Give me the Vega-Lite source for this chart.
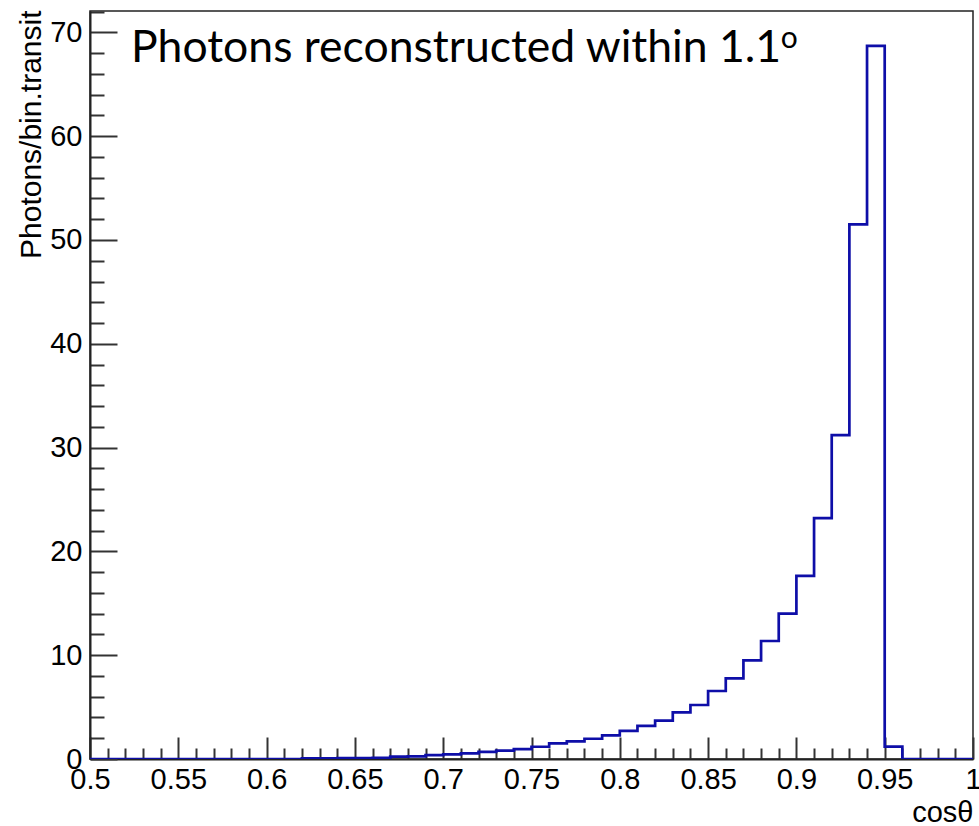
{
  "$schema": "https://vega.github.io/schema/vega-lite/v6.json",
  "width": 883,
  "height": 748,
  "autosize": "none",
  "padding": {"left": 90, "top": 11, "right": 6, "bottom": 67},
  "background": "white",
  "config": {
    "view": {"stroke": "#222", "strokeWidth": 1.5},
    "font": "Liberation Sans"
  },
  "datasets": {
    "hist": [
      {"lo": 0.50, "n": 0}, {"lo": 0.51, "n": 0}, {"lo": 0.52, "n": 0}, {"lo": 0.53, "n": 0}, {"lo": 0.54, "n": 0},
      {"lo": 0.55, "n": 0}, {"lo": 0.56, "n": 0}, {"lo": 0.57, "n": 0}, {"lo": 0.58, "n": 0}, {"lo": 0.59, "n": 0},
      {"lo": 0.60, "n": 0}, {"lo": 0.61, "n": 0}, {"lo": 0.62, "n": 0.06}, {"lo": 0.63, "n": 0.07}, {"lo": 0.64, "n": 0.08},
      {"lo": 0.65, "n": 0.09}, {"lo": 0.66, "n": 0.1}, {"lo": 0.67, "n": 0.22}, {"lo": 0.68, "n": 0.26}, {"lo": 0.69, "n": 0.38},
      {"lo": 0.70, "n": 0.45}, {"lo": 0.71, "n": 0.55}, {"lo": 0.72, "n": 0.68}, {"lo": 0.73, "n": 0.8}, {"lo": 0.74, "n": 0.96},
      {"lo": 0.75, "n": 1.18}, {"lo": 0.76, "n": 1.5}, {"lo": 0.77, "n": 1.7}, {"lo": 0.78, "n": 1.95}, {"lo": 0.79, "n": 2.28},
      {"lo": 0.80, "n": 2.7}, {"lo": 0.81, "n": 3.2}, {"lo": 0.82, "n": 3.7}, {"lo": 0.83, "n": 4.5}, {"lo": 0.84, "n": 5.2},
      {"lo": 0.85, "n": 6.55}, {"lo": 0.86, "n": 7.77}, {"lo": 0.87, "n": 9.5}, {"lo": 0.88, "n": 11.37}, {"lo": 0.89, "n": 14.0},
      {"lo": 0.90, "n": 17.65}, {"lo": 0.91, "n": 23.2}, {"lo": 0.92, "n": 31.2}, {"lo": 0.93, "n": 51.5}, {"lo": 0.94, "n": 68.7},
      {"lo": 0.95, "n": 1.2}, {"lo": 0.96, "n": 0}, {"lo": 0.97, "n": 0}, {"lo": 0.98, "n": 0}, {"lo": 0.99, "n": 0},
      {"lo": 1.00, "n": 0}
    ],
    "note": [{"label": "Photons reconstructed within 1.1", "sup": "o"}]
  },
  "layer": [
    {
      "data": {"name": "hist"},
      "mark": {"type": "line", "interpolate": "step-after", "color": "#0e0ea8", "strokeWidth": 2.7, "clip": true},
      "encoding": {
        "x": {
          "field": "lo", "type": "quantitative",
          "scale": {"domain": [0.5, 1.0], "nice": false, "zero": false},
          "axis": {
            "title": "cosθ",
            "values": [0.5,0.51,0.52,0.53,0.54,0.55,0.56,0.57,0.58,0.59,0.6,0.61,0.62,0.63,0.64,0.65,0.66,0.67,0.68,0.69,0.7,0.71,0.72,0.73,0.74,0.75,0.76,0.77,0.78,0.79,0.8,0.81,0.82,0.83,0.84,0.85,0.86,0.87,0.88,0.89,0.9,0.91,0.92,0.93,0.94,0.95,0.96,0.97,0.98,0.99,1.0],
            "tickCount": 200,
            "labelExpr": "round(datum.value*100) % 5 === 0 ? format(datum.value, '~g') : ''",
            "tickSize": {"condition": {"test": "round(datum.value*100) % 5 === 0", "value": -22}, "value": -11},
            "tickColor": "#333",
            "tickWidth": 2,
            "domainColor": "#222",
            "domainWidth": 2,
            "grid": false,
            "labelFontSize": 29,
            "labelColor": "#000",
            "labelFont": "Liberation Sans",
            "labelPadding": 28,
            "labelOverlap": false,
            "labelFlush": false,
            "titleFont": "Liberation Sans",
            "titleFontSize": 29,
            "titleFontWeight": "normal",
            "titleColor": "#000",
            "titleAnchor": "end",
            "titleAlign": "right",
            "titleBaseline": "alphabetic",
            "titleX": 883,
            "titleY": 62
          }
        },
        "y": {
          "field": "n", "type": "quantitative",
          "scale": {"domain": [0, 72.06], "nice": false},
          "axis": {
            "title": "Photons/bin.transit",
            "values": [0,2,4,6,8,10,12,14,16,18,20,22,24,26,28,30,32,34,36,38,40,42,44,46,48,50,52,54,56,58,60,62,64,66,68,70,72],
            "tickCount": 200,
            "labelExpr": "datum.value % 10 === 0 ? format(datum.value, 'd') : ''",
            "tickSize": {"condition": {"test": "datum.value % 10 === 0", "value": -27}, "value": -14},
            "tickColor": "#333",
            "tickWidth": 2,
            "domainColor": "#222",
            "domainWidth": 2,
            "grid": false,
            "labelFontSize": 29,
            "labelColor": "#000",
            "labelFont": "Liberation Sans",
            "labelPadding": 35,
            "labelOverlap": false,
            "labelFlush": false,
            "titleFont": "Liberation Sans",
            "titleFontSize": 30,
            "titleFontWeight": "normal",
            "titleColor": "#000",
            "titleAnchor": "end",
            "titleAlign": "right",
            "titleAngle": -90,
            "titleBaseline": "alphabetic",
            "titleX": -50,
            "titleY": -1
          }
        }
      }
    },
    {
      "data": {"name": "note"},
      "mark": {"type": "text", "align": "left", "baseline": "alphabetic", "font": "Lato", "fontSize": 44.5, "color": "#000"},
      "encoding": {
        "x": {"datum": 0.5232, "type": "quantitative"},
        "y": {"datum": 67.15, "type": "quantitative"},
        "text": {"field": "label"}
      }
    },
    {
      "data": {"name": "note"},
      "mark": {"type": "text", "align": "left", "baseline": "alphabetic", "font": "Lato", "fontSize": 30, "color": "#000"},
      "encoding": {
        "x": {"datum": 0.8912, "type": "quantitative"},
        "y": {"datum": 68.5, "type": "quantitative"},
        "text": {"field": "sup"}
      }
    }
  ]
}
